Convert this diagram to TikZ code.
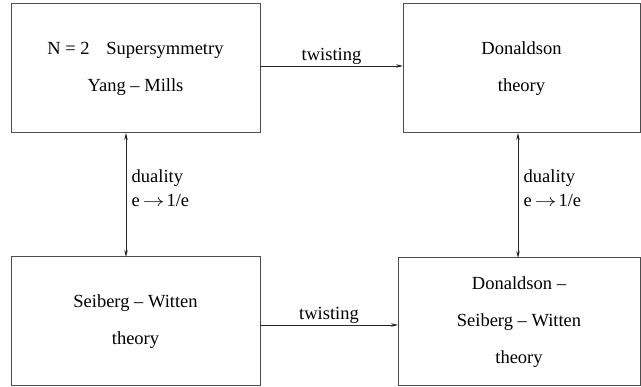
\documentclass[tikz,border=0pt]{standalone}
\usepackage{fontspec}
\setmainfont{Liberation Serif}
\usetikzlibrary{arrows.meta,positioning}
\tikzset{
    theory/.style={draw=black!70, line width=1pt, outer sep=0pt, align=center, minimum height=129pt, font=\fontsize{18.5}{37}\selectfont},
    twist/.style={-{Stealth[length=7pt, width=3.5pt]}, line width=0.8pt, black!85},
    dual/.style={{Stealth[length=7pt, width=3.5pt]}-{Stealth[length=7pt, width=3.5pt]}, line width=0.8pt, black!85},
    lbl/.style={font=\fontsize{18.5}{24}\selectfont, align=left, text=black}
}
\newcommand{\etoinv}{e\hspace{3pt}\scalebox{1.25}[1]{$\rightarrow$}\hspace{2pt}1/e}
\begin{document}
\begin{tikzpicture}[x=1pt, y=1pt]
\useasboundingbox (0,0) rectangle (641,-387);
\node[theory, minimum width=249pt] (SYM) at (135.5,-68.5) {N = 2\hspace{0.9em}Supersymmetry\\Yang -- Mills};
\node[theory, minimum width=237pt, right=143pt of SYM] (DON) {Donaldson\\theory};
\node[theory, minimum width=249pt, below=124pt of SYM] (SW) {Seiberg -- Witten\\theory};
\node[theory, minimum width=242pt, minimum height=128pt, anchor=north east] (DSW) at (640,-258) {Donaldson --\\Seiberg -- Witten\\theory};
\coordinate (swout) at ([yshift=-3.5pt]SW.east);
\coordinate (donout) at ([xshift=-3.5pt]DON.south);

\draw[twist] ([yshift=2.5pt]SYM.east) -- ([yshift=2.5pt]DON.west) node[midway, above, lbl, inner sep=1pt] {twisting};
\draw[twist] (swout) -- (DSW.west |- swout) node[midway, above, lbl, inner sep=1pt] {twisting};
\draw[dual] ([xshift=-9.5pt]SYM.south) -- ([xshift=-9.5pt]SW.north) node[midway, right, lbl, yshift=7pt, xshift=2pt] {duality\\\etoinv};
\draw[dual] (donout) -- (DSW.north -| donout) node[midway, right, lbl, yshift=7pt, xshift=2pt] {duality\\\etoinv};
\end{tikzpicture}
\end{document}
